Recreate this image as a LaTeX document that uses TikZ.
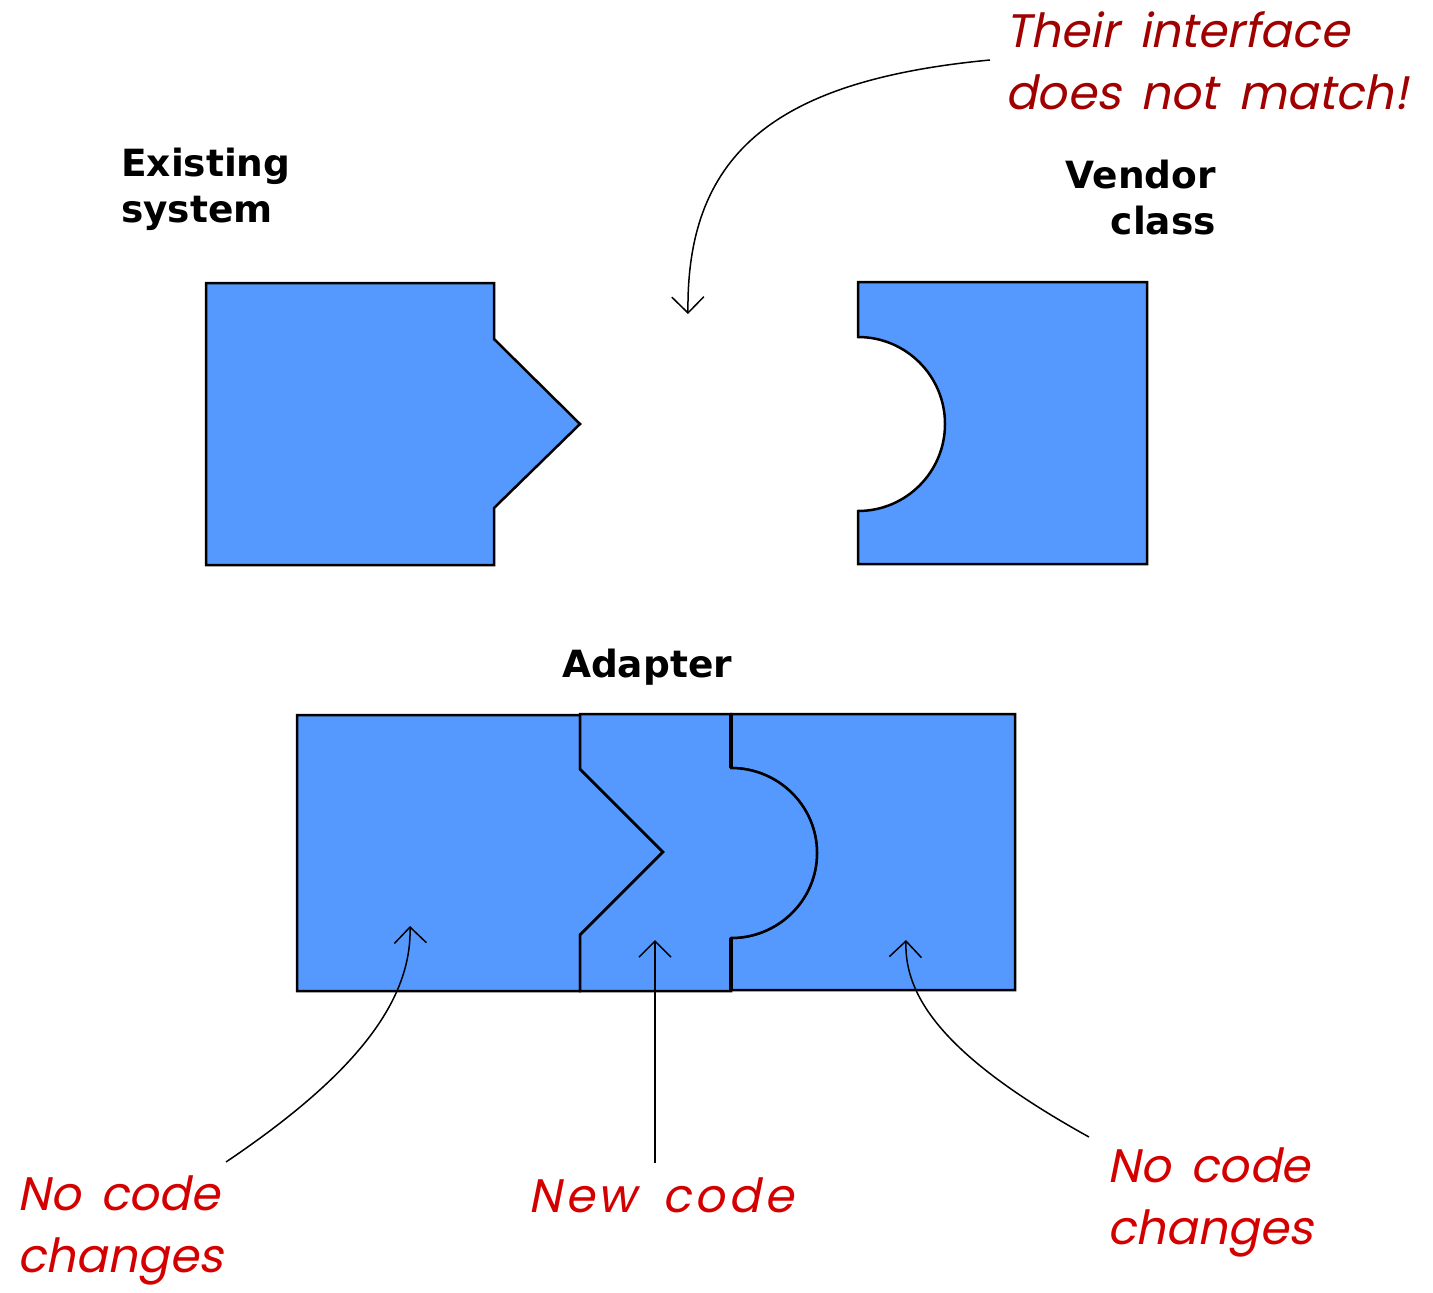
\documentclass[tikz,border=0pt]{standalone}
\usepackage{fontspec}
\newfontfamily\labelfont{DejaVu Sans}
\newfontfamily\handfont[FakeSlant=0.2,WordSpace=1.6]{Poppins}
\usetikzlibrary{arrows.meta}
\definecolor{pieceblue}{HTML}{5599FF}
\definecolor{topred}{HTML}{A00000}
\definecolor{notered}{HTML}{D40000}
\begin{document}
\begin{tikzpicture}[x=1pt,y=-1pt,
  piecepath/.style={fill=pieceblue,draw=black,line width=2.5pt,line join=miter},
  title/.style={font=\labelfont\bfseries\fontsize{37.5}{46}\selectfont,inner sep=0pt},
  hand/.style={font=\handfont\fontsize{47}{62}\selectfont,inner sep=0pt},
  note/.style={line width=1.5pt,-{Straight Barb[length=16pt,width=32pt,line width=1.5pt]}}
]
\useasboundingbox (0,0) rectangle (1433,1293);

% Existing system
\draw[piecepath] (206,283) -- (494,283) -- (494,339) -- (580,424) -- (494,508) -- (494,565) -- (206,565) -- cycle;
% Vendor class
\draw[piecepath] (858,282) -- (1147,282) -- (1147,564) -- (858,564) -- (858,511) arc[start angle=90,end angle=-90,radius=87] -- cycle;

% Adapter assembly
\draw[piecepath] (297,715) -- (580,715) -- (580,769) -- (663,852) -- (580,935) -- (580,991) -- (297,991) -- cycle;
\draw[piecepath] (731,714) -- (1015,714) -- (1015,990) -- (731,990) -- (731,938) arc[start angle=90,end angle=-90,x radius=86,y radius=85] -- cycle;
\draw[piecepath] (580,714) -- (731,714) -- (731,768) arc[start angle=-90,end angle=90,x radius=86,y radius=85] -- (731,991) -- (580,991) -- (580,935) -- (663,852) -- (580,769) -- cycle;
\draw[line width=3.2pt] (731,714) -- (731,768) (731,938) -- (731,991);

% Titles (base anchor = baseline of the last line)
\node[title,anchor=base west,align=left] (existing) at (121,222) {Existing\\system};
\node[title,anchor=base east,align=right] (vendor) at (1216,234) {Vendor\\class};
\node[title,anchor=base] (adapter) at (647,677) {Adapter};

% Notes
\node[hand,text=topred,anchor=base west,align=left] (mismatch) at (1005,109) {Their interface\\does not match!};
\node[hand,text=notered,anchor=base west,align=left] (nochangeL) at (17,1272) {No code\\changes};
\node[hand,text=notered,anchor=base west,font=\handfont\fontsize{47}{62}\selectfont\addfontfeature{LetterSpace=8}] (newcode) at (528,1212) {New code};
\node[hand,text=notered,anchor=base west,align=left] (nochangeR) at (1107,1244) {No code\\changes};

% Connector end points
\coordinate (gap) at (688,314);
\coordinate (mismatchtail) at (990,60);
\coordinate (leftpiece) at (410,926);
\coordinate (leftnote) at (226,1162);
\coordinate (midpiece) at (655,940);
\coordinate (midnote) at (655,1163);
\coordinate (rightpiece) at (906,940);
\coordinate (rightnote) at (1089,1137);

\draw[note] (mismatchtail) .. controls (780,80) and (686,150) .. (gap);
\draw[note] (leftnote) .. controls (340,1085) and (412,1010) .. (leftpiece);
\draw[note] (midnote) -- (midpiece);
\draw[note] (rightnote) .. controls (950,1060) and (904,1000) .. (rightpiece);
\end{tikzpicture}
\end{document}
